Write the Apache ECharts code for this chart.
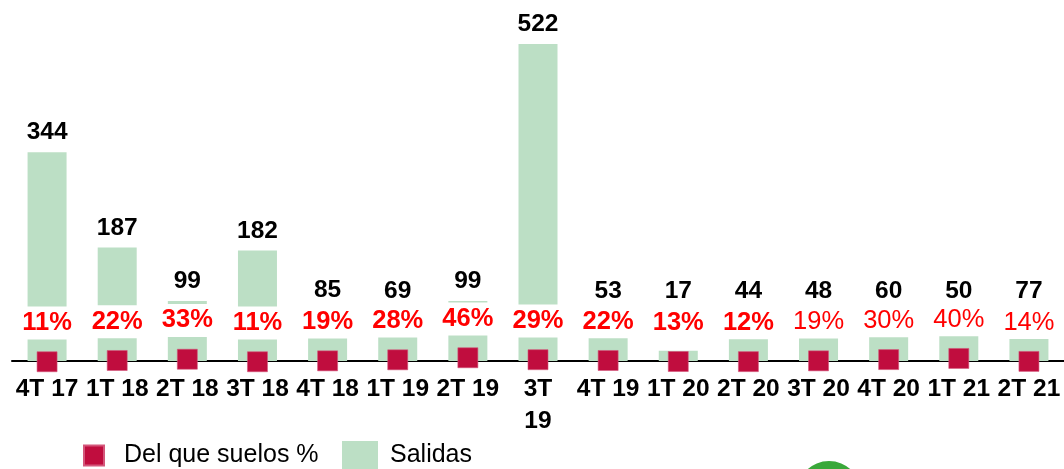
<!DOCTYPE html>
<html>
<head>
<meta charset="utf-8">
<script src="https://cdn.jsdelivr.net/npm/echarts@6/dist/echarts.min.js"></script>
<style>
html,body{margin:0;padding:0;background:#fff;}
#c{width:1064px;height:469px;}
</style>
</head>
<body>
<div id="c"></div>
<script>
const categories = ['4T 17','1T 18','2T 18','3T 18','4T 18','1T 19','2T 19','3T 19','4T 19','1T 20','2T 20','3T 20','4T 20','1T 21','2T 21'];
const salidas = [344, 187, 99, 182, 85, 69, 99, 522, 53, 17, 44, 48, 60, 50, 77];
const suelosPct = [11, 22, 33, 11, 19, 28, 46, 29, 22, 13, 12, 19, 30, 40, 14];

const FONT = '"Liberation Sans", Arial, sans-serif';
const FS = 24.5;

const chart = echarts.init(document.getElementById('c'), null, {renderer: 'canvas'});

const pctData = suelosPct.map((v, i) => ({
  value: v,
  label: { fontWeight: i < 11 ? 'bold' : 'normal' }
}));

chart.setOption({
  animation: false,
  backgroundColor: '#ffffff',
  textStyle: { fontFamily: FONT },
  grid: [
    { left: 12, width: 1056, top: 21, bottom: 108, containLabel: false },
    { left: 12, width: 1056, bottom: 106, height: 114, containLabel: false }
  ],
  xAxis: [
    {
      type: 'category', gridIndex: 0, data: categories,
      axisLine: { show: true, lineStyle: { color: '#000', width: 2 } },
      axisTick: { show: false },
      axisLabel: {
        interval: 0, color: '#000', fontFamily: FONT, fontSize: FS, fontWeight: 'bold',
        margin: 12, lineHeight: 32,
        formatter: (v, i) => i === 7 ? v.replace(' ', '\n') : v
      },
      splitLine: { show: false }
    },
    {
      type: 'category', gridIndex: 1, data: categories, show: false
    }
  ],
  yAxis: [
    { type: 'value', gridIndex: 0, min: 0, max: 560, show: false, splitLine: { show: false } },
    { type: 'value', gridIndex: 1, min: 0, max: 1000, show: false, splitLine: { show: false } }
  ],
  legend: [
    {
      data: [{ name: 'Del que suelos %', icon: 'rect', itemStyle: { color: '#C00D3E', opacity: 1 } }],
      left: 83, top: 443, itemWidth: 20, itemHeight: 20, padding: 0,
      textStyle: { color: '#000', fontFamily: FONT, fontSize: 25, padding: [0, 0, 0, 15] }
    },
    {
      data: [{ name: 'Salidas', icon: 'rect' }],
      left: 342, top: 441, itemWidth: 36, itemHeight: 28, padding: 0,
      textStyle: { color: '#000', fontFamily: FONT, fontSize: 25, padding: [0, 0, 0, 7] }
    }
  ],
  series: [
    {
      name: 'Salidas', type: 'bar', xAxisIndex: 0, yAxisIndex: 0,
      data: salidas, barWidth: 39,
      itemStyle: { color: '#BCDFC5' },
      z: 2,
      label: {
        show: true, position: 'top', distance: 7,
        color: '#000', fontFamily: FONT, fontSize: FS, fontWeight: 'bold'
      },
      labelLayout: function (p) {
        const r = p.labelRect;
        const cy = Math.min(r.y + r.height / 2, 291);
        return { x: r.x + r.width / 2, y: cy, align: 'center', verticalAlign: 'middle' };
      }
    },
    {
      name: 'Del que suelos %', type: 'scatter', xAxisIndex: 1, yAxisIndex: 1,
      data: pctData, symbol: 'rect', symbolSize: 20,
      itemStyle: { color: '#C00D3E', borderColor: '#D4567A', borderWidth: 0.6, opacity: 1 },
      z: 5,
      label: {
        show: true, position: 'top', distance: 12, opacity: 1,
        color: '#FF0000', fontFamily: FONT, fontSize: 25.5, lineHeight: 25,
        backgroundColor: '#ffffff', padding: [4, 6],
        formatter: p => p.value + '%'
      }
    }
  ],
  graphic: [
    {
      type: 'circle', shape: { cx: 829, cy: 493, r: 32 },
      style: { fill: '#3AA83A' }, silent: true
    }
  ]
});
</script>
</body>
</html>
